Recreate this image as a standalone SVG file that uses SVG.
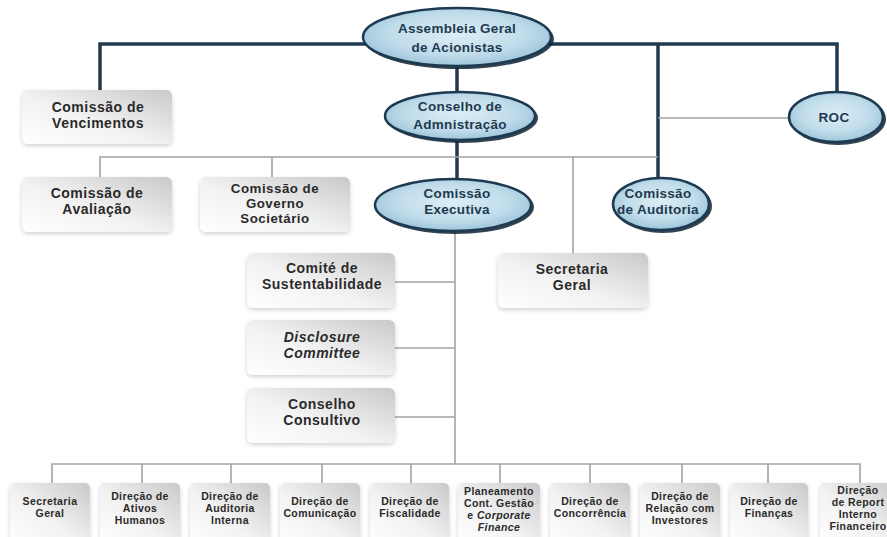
<svg xmlns="http://www.w3.org/2000/svg" width="887" height="537" viewBox="0 0 887 537">
<defs>
<linearGradient id="boxg" x1="0" y1="1" x2="1" y2="0">
<stop offset="0" stop-color="#ffffff"/>
<stop offset="0.45" stop-color="#f2f2f2"/>
<stop offset="1" stop-color="#c9c9c9"/>
</linearGradient>
<radialGradient id="ellg" cx="0.5" cy="0.45" r="0.6">
<stop offset="0" stop-color="#dcedf5"/>
<stop offset="0.6" stop-color="#c0dcea"/>
<stop offset="1" stop-color="#94bfd6"/>
</radialGradient>
<filter id="sh" x="-10%" y="-10%" width="125%" height="130%">
<feDropShadow dx="0" dy="2" stdDeviation="2" flood-color="#000" flood-opacity="0.18"/>
</filter>
</defs>
<style>
.box{fill:url(#boxg);filter:url(#sh)}
.ell{fill:url(#ellg);stroke:#1d3a50;stroke-width:2.5}
.ellsh{fill:#0f2233;opacity:0.85}
.t{font-family:"Liberation Sans",Arial,sans-serif;font-weight:bold;font-size:14px;letter-spacing:0.5px;fill:#2a2a2a;text-anchor:middle}
.t3{font-size:13.3px}
.te{font-family:"Liberation Sans",Arial,sans-serif;font-weight:bold;font-size:13.5px;letter-spacing:0.3px;fill:#1e3a50;text-anchor:middle}
.tb{font-family:"Liberation Sans",Arial,sans-serif;font-weight:bold;font-size:10.5px;letter-spacing:0.4px;fill:#2a2a2a;text-anchor:middle}
.it{font-style:italic}
.thick{stroke:#1f3a4f;stroke-width:3.5;fill:none}
.thin{stroke:#a3a3a3;stroke-width:1.6;fill:none}
</style>
<rect width="887" height="537" fill="#ffffff"/>
<g id="connectors">
<path class="thick" d="M100 90 V44 H837 V92 M658 44 V177 M457 66 V92 M457 140 V178"/>
<path class="thin" d="M100 177 V157 H658 M272 157 V177 M573 157 V253 M658 118 H788"/>
<path class="thin" d="M455 232 V464 M395 282 H455 M395 348 H455 M395 417 H455"/>
<path class="thin" d="M52 483 V464 H860 V483 M142 464 V483 M231 464 V483 M322 464 V483 M411 464 V483 M500 464 V483 M590 464 V483 M682 464 V483 M768 464 V483"/>
</g>
<g id="assembleia">
<ellipse class="ellsh" cx="459" cy="39" rx="95" ry="30"/>
<ellipse class="ell" cx="457" cy="37" rx="94" ry="29"/>
<text class="te" x="457" y="33">Assembleia Geral<tspan x="457" dy="19">de Acionistas</tspan></text>
</g>
<g id="conselho-admin">
<ellipse class="ellsh" cx="462" cy="118" rx="76" ry="25"/>
<ellipse class="ell" cx="460" cy="116" rx="75" ry="24"/>
<text class="te" x="460" y="111">Conselho de<tspan x="460" dy="18">Admnistração</tspan></text>
</g>
<g id="roc">
<ellipse class="ellsh" cx="838" cy="119" rx="48" ry="26"/>
<ellipse class="ell" cx="836" cy="117" rx="47" ry="25"/>
<text class="te" x="834" y="122">ROC</text>
</g>
<g id="comissao-executiva">
<ellipse class="ellsh" cx="455" cy="207" rx="79" ry="27"/>
<ellipse class="ell" cx="453" cy="205" rx="78" ry="26"/>
<text class="te" x="457" y="198">Comissão<tspan x="457" dy="16">Executiva</tspan></text>
</g>
<g id="comissao-auditoria">
<ellipse class="ellsh" cx="663" cy="206" rx="49" ry="27"/>
<ellipse class="ell" cx="661" cy="204" rx="48" ry="26"/>
<text class="te" x="658" y="198">Comissão<tspan x="658" dy="16">de Auditoria</tspan></text>
</g>
<g id="vencimentos">
<rect class="box" x="22" y="90" width="150" height="54" rx="6"/>
<text class="t" x="98" y="112">Comissão de<tspan x="98" dy="16">Vencimentos</tspan></text>
</g>
<g id="avaliacao">
<rect class="box" x="22" y="177" width="150" height="55" rx="6"/>
<text class="t" x="97" y="198">Comissão de<tspan x="97" dy="16">Avaliação</tspan></text>
</g>
<g id="governo">
<rect class="box" x="200" y="177" width="150" height="55" rx="6"/>
<text class="t t3" x="275" y="193">Comissão de<tspan x="275" dy="15">Governo</tspan><tspan x="275" dy="15">Societário</tspan></text>
</g>
<g id="sustentabilidade">
<rect class="box" x="247" y="253" width="148" height="55" rx="6"/>
<text class="t" x="322" y="273">Comité de<tspan x="322" dy="16">Sustentabilidade</tspan></text>
</g>
<g id="disclosure">
<rect class="box" x="247" y="320" width="148" height="55" rx="6"/>
<text class="t it" x="322" y="342">Disclosure<tspan x="322" dy="16">Committee</tspan></text>
</g>
<g id="consultivo">
<rect class="box" x="247" y="388" width="148" height="55" rx="6"/>
<text class="t" x="322" y="409">Conselho<tspan x="322" dy="16">Consultivo</tspan></text>
</g>
<g id="secretaria-geral-top">
<rect class="box" x="498" y="253" width="150" height="55" rx="6"/>
<text class="t" x="572" y="274">Secretaria<tspan x="572" dy="16">Geral</tspan></text>
</g>
<g id="b-secretaria">
<rect class="box" x="10" y="483" width="80" height="62" rx="5"/>
<text class="tb" x="50" y="505">Secretaria<tspan x="50" dy="12">Geral</tspan></text>
</g>
<g id="b-ativos">
<rect class="box" x="100" y="483" width="80" height="62" rx="5"/>
<text class="tb" x="140" y="500">Direção de<tspan x="140" dy="12">Ativos</tspan><tspan x="140" dy="12">Humanos</tspan></text>
</g>
<g id="b-auditoria">
<rect class="box" x="190" y="483" width="80" height="62" rx="5"/>
<text class="tb" x="230" y="500">Direção de<tspan x="230" dy="12">Auditoria</tspan><tspan x="230" dy="12">Interna</tspan></text>
</g>
<g id="b-comunicacao">
<rect class="box" x="280" y="483" width="80" height="62" rx="5"/>
<text class="tb" x="320" y="505">Direção de<tspan x="320" dy="12">Comunicação</tspan></text>
</g>
<g id="b-fiscalidade">
<rect class="box" x="370" y="483" width="79" height="62" rx="5"/>
<text class="tb" x="410" y="505">Direção de<tspan x="410" dy="12">Fiscalidade</tspan></text>
</g>
<g id="b-planeamento">
<rect class="box" x="458" y="483" width="82" height="62" rx="5"/>
<text class="tb" x="499" y="495">Planeamento<tspan x="499" dy="12">Cont. Gestão</tspan><tspan x="499" dy="12">e </tspan><tspan class="it">Corporate</tspan><tspan class="it" x="499" dy="12">Finance</tspan></text>
</g>
<g id="b-concorrencia">
<rect class="box" x="550" y="483" width="80" height="62" rx="5"/>
<text class="tb" x="590" y="505">Direção de<tspan x="590" dy="12">Concorrência</tspan></text>
</g>
<g id="b-relacao">
<rect class="box" x="640" y="483" width="80" height="62" rx="5"/>
<text class="tb" x="680" y="500">Direção de<tspan x="680" dy="12">Relação com</tspan><tspan x="680" dy="12">Investores</tspan></text>
</g>
<g id="b-financas">
<rect class="box" x="730" y="483" width="78" height="62" rx="5"/>
<text class="tb" x="769" y="505">Direção de<tspan x="769" dy="12">Finanças</tspan></text>
</g>
<g id="b-reporte">
<rect class="box" x="820" y="483" width="80" height="62" rx="5"/>
<text class="tb" x="858" y="494">Direção<tspan x="858" dy="12">de Report</tspan><tspan x="858" dy="12">Interno</tspan><tspan x="858" dy="12">Financeiro</tspan></text>
</g>
</svg>
